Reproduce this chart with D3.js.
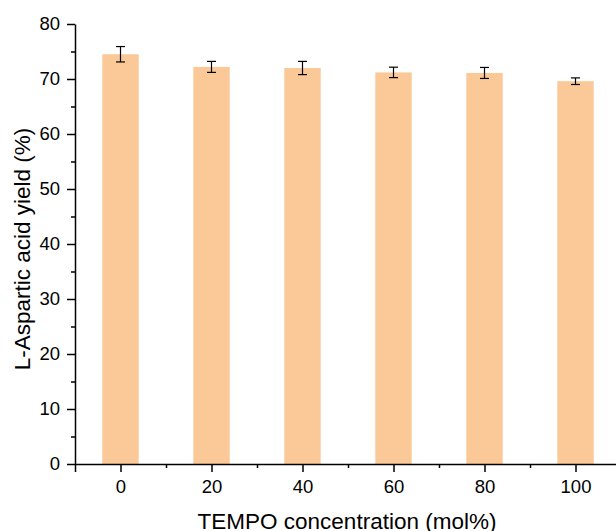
<!DOCTYPE html>
<html>
<head>
<meta charset="utf-8">
<script src="https://cdn.jsdelivr.net/npm/d3@7"></script>
<style>
  body { margin: 0; background: #fff; }
  svg { display: block; font-family: "Liberation Sans", Arial, sans-serif; }
</style>
</head>
<body>
<svg width="616" height="531"></svg>
<script>
// TEMPO concentration (mol%) vs L-aspartic acid yield
const concentrations = [0, 20, 40, 60, 80, 100];
const yields = [74.5, 72.2, 72.0, 71.2, 71.1, 69.6];
const errors = [1.4, 1.0, 1.2, 0.95, 1.0, 0.6];
const yTicks = [0, 10, 20, 30, 40, 50, 60, 70, 80];

const data = concentrations.map((c, i) => ({c: c, y: yields[i], e: errors[i]}));

const svg = d3.select("svg");

const x = d3.scaleLinear().domain([-10, 110]).range([75, 621]);
const y = d3.scaleLinear().domain([0, 80]).range([464, 24]);
const barW = x(8) - x(0);

// bars
svg.append("g")
  .selectAll("rect")
  .data(data)
  .join("rect")
    .attr("x", d => x(d.c) - barW / 2)
    .attr("y", d => y(d.y))
    .attr("width", barW)
    .attr("height", d => y(0) - y(d.y))
    .attr("fill", "#fbc897");

// error bars
const err = svg.append("g")
    .attr("stroke", "#000")
    .attr("stroke-width", 1.2)
  .selectAll("g")
  .data(data)
  .join("g");
err.append("line")
    .attr("x1", d => x(d.c)).attr("x2", d => x(d.c))
    .attr("y1", d => y(d.y + d.e)).attr("y2", d => y(d.y - d.e));
err.append("line")
    .attr("x1", d => x(d.c) - 4.5).attr("x2", d => x(d.c) + 4.5)
    .attr("y1", d => y(d.y + d.e)).attr("y2", d => y(d.y + d.e));
err.append("line")
    .attr("x1", d => x(d.c) - 4.5).attr("x2", d => x(d.c) + 4.5)
    .attr("y1", d => y(d.y - d.e)).attr("y2", d => y(d.y - d.e));

// y axis
const yAxis = svg.append("g")
    .attr("transform", `translate(${x(-10)},0)`)
    .call(d3.axisLeft(y).tickValues(yTicks).tickSize(8).tickPadding(7).tickSizeOuter(0));
yAxis.append("g")
    .call(d3.axisLeft(y).tickValues(d3.range(5, 80, 10)).tickSize(4).tickFormat("").tickSizeOuter(0))
    .select(".domain").remove();

// x axis
const xAxis = svg.append("g")
    .attr("transform", `translate(0,${y(0)})`)
    .call(d3.axisBottom(x).tickValues([-10].concat(concentrations))
      .tickFormat(d => d < 0 ? "" : d).tickSize(8).tickPadding(8).tickSizeOuter(0));
xAxis.append("g")
    .call(d3.axisBottom(x).tickValues(d3.range(10, 120, 20)).tickSize(4).tickFormat("").tickSizeOuter(0))
    .select(".domain").remove();

svg.selectAll(".domain, .tick line").attr("stroke", "#000").attr("stroke-width", 1.5);
svg.selectAll(".tick text").attr("fill", "#000").style("font-size", "18.5px")
    .style("font-family", "Liberation Sans, Arial, sans-serif");

// titles
svg.append("text")
    .attr("x", 347).attr("y", 529)
    .attr("text-anchor", "middle")
    .style("font-size", "22.5px")
    .text("TEMPO concentration (mol%)");

svg.append("text")
    .attr("transform", `translate(30,249) rotate(-90)`)
    .attr("text-anchor", "middle")
    .style("font-size", "22.5px")
    .text("L-Aspartic acid yield (%)");
</script>
</body>
</html>
